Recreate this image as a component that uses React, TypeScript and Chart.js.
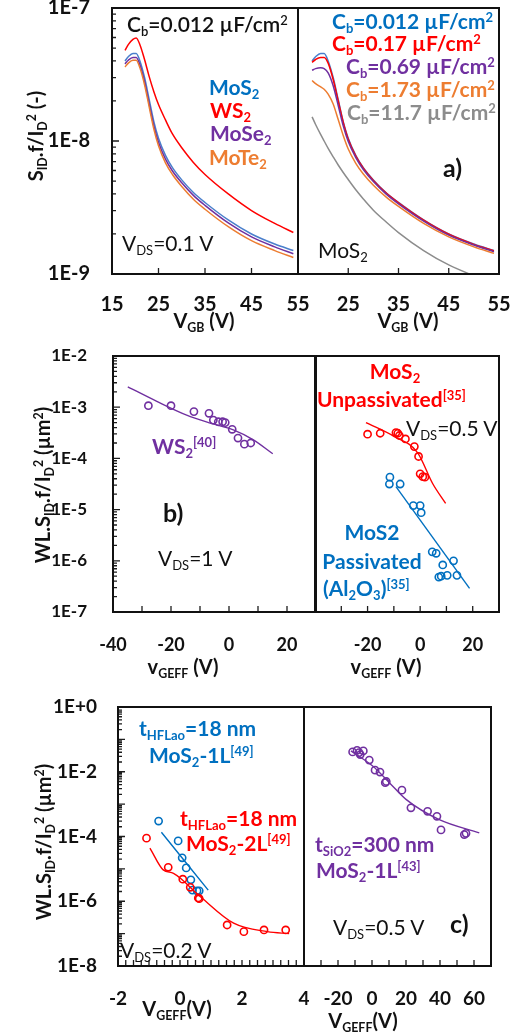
import React, { useEffect, useRef } from "react";
import { Chart, registerables } from "chart.js";
Chart.register(...registerables);

const FONT = "Lato, 'Open Sans', 'DejaVu Sans', sans-serif";
const PAGE_W = 528;
const PAGE_H = 1036;

const BLUE = "#0070C0";
const RED = "#FF0000";
const PURPLE = "#7030A0";
const ORANGE = "#ED7D31";
const GRAY = "#8C8C8C";
const A_BLUE_LINE = "#4A7FCC";

// ---------- panel a ----------
const A_X = [17.8, 18.5, 19.5, 20.2, 21, 22, 23, 24, 25, 26.5, 28, 30, 32.5, 35, 40, 45, 50, 54];
const A_MOS2 = [4.0e-8, 4.3e-8, 4.55e-8, 4.55e-8, 4.0e-8, 3.0e-8, 2.05e-8, 1.4e-8, 1.05e-8, 7.8e-9, 6.3e-9, 5.1e-9, 4.1e-9, 3.45e-9, 2.55e-9, 2.0e-9, 1.68e-9, 1.5e-9];
const A_WS2 = [4.8e-8, 5.3e-8, 5.8e-8, 5.95e-8, 5.3e-8, 4.1e-8, 3.05e-8, 2.35e-8, 1.88e-8, 1.44e-8, 1.13e-8, 8.9e-9, 6.9e-9, 5.6e-9, 4.0e-9, 3.0e-9, 2.4e-9, 2.05e-9];
const A_MOSE2 = [3.8e-8, 4.05e-8, 4.25e-8, 4.25e-8, 3.75e-8, 2.8e-8, 1.9e-8, 1.3e-8, 9.8e-9, 7.3e-9, 5.95e-9, 4.85e-9, 3.9e-9, 3.28e-9, 2.42e-9, 1.9e-9, 1.6e-9, 1.42e-9];
const A_MOTE2 = [3.6e-8, 3.85e-8, 4.05e-8, 4.05e-8, 3.55e-8, 2.65e-8, 1.8e-8, 1.23e-8, 9.2e-9, 6.85e-9, 5.6e-9, 4.55e-9, 3.65e-9, 3.07e-9, 2.27e-9, 1.78e-9, 1.5e-9, 1.33e-9];
const A_CB0012 = [4.0e-8, 4.3e-8, 4.55e-8, 4.55e-8, 4.0e-8, 3.0e-8, 2.05e-8, 1.4e-8, 1.05e-8, 7.8e-9, 6.3e-9, 5.1e-9, 4.1e-9, 3.45e-9, 2.55e-9, 2.0e-9, 1.68e-9, 1.5e-9];
const A_CB017 = [3.9e-8, 4.1e-8, 4.25e-8, 4.25e-8, 3.85e-8, 2.9e-8, 2.0e-8, 1.38e-8, 1.03e-8, 7.7e-9, 6.25e-9, 5.05e-9, 4.07e-9, 3.43e-9, 2.54e-9, 1.99e-9, 1.67e-9, 1.49e-9];
const A_CB069 = [3.4e-8, 3.5e-8, 3.55e-8, 3.5e-8, 3.25e-8, 2.6e-8, 1.85e-8, 1.3e-8, 9.9e-9, 7.5e-9, 6.1e-9, 4.95e-9, 4.0e-9, 3.37e-9, 2.5e-9, 1.96e-9, 1.65e-9, 1.47e-9];
const A_CB173 = [2.85e-8, 2.7e-8, 2.55e-8, 2.45e-8, 2.25e-8, 1.9e-8, 1.45e-8, 1.1e-8, 8.7e-9, 6.8e-9, 5.65e-9, 4.65e-9, 3.8e-9, 3.22e-9, 2.4e-9, 1.9e-9, 1.6e-9, 1.43e-9];
const A_CB117 = [1.52e-8, 1.33e-8, 1.12e-8, 1.0e-8, 8.8e-9, 7.6e-9, 6.6e-9, 5.8e-9, 5.13e-9, 4.3e-9, 3.67e-9, 3.02e-9, 2.47e-9, 2.05e-9, 1.5e-9, 1.17e-9, 9.7e-10, 8.5e-10];
const A_XTICKS = [15, 25, 35, 45, 55];
const A_LEFT_XLABELS = [15, 25, 35, 45, 55];
const A_RIGHT_XLABELS = [25, 35, 45, 55];
const A_YTICKS = [1e-9, 1e-8, 1e-7];

// ---------- panel b ----------
const B_WS2_X = [-27.8, -20, -12.1, -6.9, -5.4, -3.7, -2.2, -1.3, 1.1, 3.1, 5.3, 7.5];
const B_WS2_Y = [1.07e-3, 1.07e-3, 8.2e-4, 7.6e-4, 5.6e-4, 5.2e-4, 5.2e-4, 5.0e-4, 3.7e-4, 2.5e-4, 1.9e-4, 2.0e-4];
const B_WS2_FIT_X = [-34.9, -24.9, -14.6, -6.5, 1.5, 8.4, 15.1];
const B_WS2_FIT_Y = [2.5e-3, 1.3e-3, 7.0e-4, 4.9e-4, 3.6e-4, 2.3e-4, 1.23e-4];
const B_UNP_X = [-20, -15.2, -9.2, -8.5, -7.9, -5.6, -2.2, -0.6, 0, 1, 1.8];
const B_UNP_Y = [2.97e-4, 3.1e-4, 3.2e-4, 3.1e-4, 2.8e-4, 2.4e-4, 1.7e-4, 1.09e-4, 5.0e-5, 4.4e-5, 4.3e-5];
const B_UNP_FIT_X = [-20.6, -10, -1, 4.8, 9.7];
const B_UNP_FIT_Y = [5.0e-4, 2.7e-4, 1.3e-4, 3.2e-5, 1.32e-5];
const B_PAS_X = [-11.5, -11.7, -7.6, -2.6, 0, 0.4, 4.6, 6.1, 8.6, 12.7, 7.1, 8.0, 10.3, 14.0];
const B_PAS_Y = [4.3e-5, 3.16e-5, 3.16e-5, 1.2e-5, 1.2e-5, 8.7e-6, 1.5e-6, 1.4e-6, 8.3e-7, 1.0e-6, 4.8e-7, 5.0e-7, 5.2e-7, 5.2e-7];
const B_PAS_FIT_X = [-9.2, 18.8];
const B_PAS_FIT_Y = [2.8e-5, 2.9e-7];
const B_XTICKS = [-40, -30, -20, -10, 0, 10, 20, 30];
const B_LEFT_XLABELS = [-40, -20, 0, 20];
const B_RIGHT_XLABELS = [-20, 0, 20];
const B_YTICKS = [1e-7, 1e-6, 1e-5, 1e-4, 1e-3, 1e-2];

// ---------- panel c ----------
const C_1L_X = [-0.69, -0.06, 0.07, 0.2, 0.35, 0.4, 0.55, 0.62];
const C_1L_Y = [3.0e-4, 7.3e-5, 2.2e-5, 1.07e-5, 4.6e-6, 2.2e-6, 2.1e-6, 2.1e-6];
const C_1L_FIT_X = [-0.6, 0.91];
const C_1L_FIT_Y = [1.35e-4, 2.2e-6];
const C_2L_X = [-1.08, -0.38, 0.09, 0.33, 0.59, 0.62, 1.52, 2.06, 2.71, 3.41];
const C_2L_Y = [8.9e-5, 1.12e-5, 4.8e-6, 2.7e-6, 1.26e-6, 1.2e-6, 1.85e-7, 1.15e-7, 1.3e-7, 1.3e-7];
const C_2L_FIT_X = [-0.97, -0.54, -0.21, 0.65, 1.73, 2.82, 3.52];
const C_2L_FIT_Y = [4.4e-5, 9.3e-6, 7.3e-6, 1.4e-6, 2.1e-7, 1.15e-7, 1.0e-7];
const C_SIO2_X = [-11.4, -8.8, -7.6, -6.9, -5.1, -1.6, 1.8, 4.7, 7.8, 8.4, 17.6, 22.9, 32.7, 38.2, 40.6, 54.3, 55.3];
const C_SIO2_Y = [4.1e-2, 4.6e-2, 3.9e-2, 3.4e-2, 4.4e-2, 2.3e-2, 1.12e-2, 9.8e-3, 4.6e-3, 5.0e-3, 2.7e-3, 7.7e-4, 6.0e-4, 4.2e-4, 1.6e-4, 1.15e-4, 1.25e-4];
const C_SIO2_FIT_X = [-12.4, 0.4, 10.2, 20, 39.6, 63.1];
const C_SIO2_FIT_Y = [4.4e-2, 1.5e-2, 4.6e-3, 1.4e-3, 3.3e-4, 1.29e-4];
const C_LEFT_XTICKS = [-2, -1.75, -1.5, -1.25, -1, -0.75, -0.5, -0.25, 0, 0.25, 0.5, 0.75, 1, 1.25, 1.5, 1.75, 2, 2.25, 2.5, 2.75, 3, 3.25, 3.5, 3.75, 4];
const C_LEFT_XLABELS = [-2, 0, 2, 4];
const C_RIGHT_XTICKS = [-40, -30, -20, -10, 0, 10, 20, 30, 40, 50, 60, 70];
const C_RIGHT_XLABELS = [-20, 0, 20, 40, 60];
const C_YTICKS = [1e-8, 1e-6, 1e-4, 1e-2, 1];

type Box = { L: number; R: number; T: number; B: number };
type Panel = {
  box: Box;
  xMin: number; xMax: number; xTicks: number[]; xLabels: number[];
  yMin: number; yMax: number; yTicks: number[]; showY: boolean;
  xFont: number; yFont: number; xPad: number; yPad: number;
  datasets: any[];
};

const pts = (xs: number[], ys: number[]) => xs.map((x, i) => ({ x, y: ys[i] }));
const lineDs = (xs: number[], ys: number[], color: string, width = 1.5) => ({
  data: pts(xs, ys),
  showLine: true,
  borderColor: color,
  backgroundColor: color,
  borderWidth: width,
  pointRadius: 0,
  cubicInterpolationMode: "monotone",
  fill: false,
});
const circDs = (xs: number[], ys: number[], color: string) => ({
  data: pts(xs, ys),
  showLine: false,
  pointRadius: 3.6,
  pointBorderWidth: 1.6,
  pointBorderColor: color,
  pointBackgroundColor: "rgba(255,255,255,0)",
  borderColor: color,
  backgroundColor: "rgba(255,255,255,0)",
});

const fmtExp = (v: number) => {
  const e = Math.round(Math.log10(v));
  return "1E" + (e >= 0 ? "+" + e : String(e));
};

function makeChart(canvas: HTMLCanvasElement, p: Panel) {
  const YW = p.showY ? 100 : 0;
  const XH = 60;
  const frame = {
    id: "frame",
    afterDatasetsDraw(chart: any) {
      const { ctx, chartArea: a } = chart;
      const xs = chart.scales.x;
      const ys = chart.scales.y;
      ctx.save();
      ctx.strokeStyle = "#1c1c1c";
      ctx.lineWidth = 1.3;
      ctx.beginPath();
      p.xTicks.forEach((v) => {
        const px = xs.getPixelForValue(v);
        if (px <= a.left + 2 || px >= a.right - 2) return;
        ctx.moveTo(px, a.bottom);
        ctx.lineTo(px, a.bottom - 6);
      });
      if (p.showY) {
        const e0 = Math.floor(Math.log10(p.yMin) + 1e-9);
        const e1 = Math.ceil(Math.log10(p.yMax) - 1e-9);
        for (let e = e0; e < e1; e++) {
          for (let m = 1; m < 10; m++) {
            const py = ys.getPixelForValue(m * Math.pow(10, e));
            if (py <= a.top + 2 || py >= a.bottom - 2) continue;
            ctx.moveTo(a.left, py);
            ctx.lineTo(a.left + (m === 1 ? 7 : 4), py);
          }
        }
      }
      ctx.stroke();
      ctx.lineWidth = 2;
      ctx.strokeStyle = "#111";
      ctx.strokeRect(a.left, a.top, a.right - a.left, a.bottom - a.top);
      ctx.restore();
    },
  };
  return new Chart(canvas, {
    type: "scatter",
    data: { datasets: p.datasets },
    plugins: [frame],
    options: {
      animation: false,
      responsive: false,
      maintainAspectRatio: false,
      devicePixelRatio: 1,
      events: [],
      layout: {
        padding: {
          left: p.box.L - YW,
          top: p.box.T,
          right: PAGE_W - p.box.R,
          bottom: PAGE_H - p.box.B - XH,
        },
      },
      plugins: { legend: { display: false }, tooltip: { enabled: false } },
      scales: {
        x: {
          type: "linear",
          min: p.xMin,
          max: p.xMax,
          grid: { display: false, drawTicks: false },
          border: { display: false },
          afterBuildTicks: (s: any) => {
            s.ticks = p.xTicks.map((v) => ({ value: v }));
          },
          afterFit: (s: any) => {
            s.height = XH;
            s.paddingLeft = 0;
            s.paddingRight = 0;
          },
          ticks: {
            autoSkip: false,
            maxRotation: 0,
            minRotation: 0,
            padding: p.xPad,
            color: "#111",
            font: { family: FONT, size: p.xFont, weight: "bold" },
            callback: (v: any) => (p.xLabels.includes(Number(v)) ? String(v) : ""),
          },
        },
        y: {
          type: "logarithmic",
          min: p.yMin,
          max: p.yMax,
          display: p.showY,
          grid: { display: false, drawTicks: false },
          border: { display: false },
          afterBuildTicks: (s: any) => {
            s.ticks = p.yTicks.map((v) => ({ value: v }));
          },
          afterFit: (s: any) => {
            s.width = YW;
            s.paddingTop = 0;
            s.paddingBottom = 0;
          },
          ticks: {
            autoSkip: false,
            padding: p.yPad,
            color: "#111",
            font: { family: FONT, size: p.yFont, weight: "bold" },
            callback: (v: any) => fmtExp(Number(v)),
          },
        },
      },
    } as any,
  });
}

function buildPanels(): Panel[] {
  return [
    {
      box: { L: 112, R: 298, T: 8, B: 274 },
      xMin: 15, xMax: 55, xTicks: A_XTICKS, xLabels: A_LEFT_XLABELS,
      yMin: 1e-9, yMax: 1e-7, yTicks: A_YTICKS, showY: true,
      xFont: 20, yFont: 20, xPad: 19, yPad: 22,
      datasets: [
        lineDs(A_X, A_MOTE2, ORANGE),
        lineDs(A_X, A_MOSE2, PURPLE),
        lineDs(A_X, A_MOS2, A_BLUE_LINE),
        lineDs(A_X, A_WS2, RED),
      ],
    },
    {
      box: { L: 298, R: 499, T: 8, B: 274 },
      xMin: 15, xMax: 55, xTicks: A_XTICKS, xLabels: A_RIGHT_XLABELS,
      yMin: 1e-9, yMax: 1e-7, yTicks: A_YTICKS, showY: false,
      xFont: 20, yFont: 20, xPad: 19, yPad: 22,
      datasets: [
        lineDs(A_X, A_CB117, GRAY),
        lineDs(A_X, A_CB173, ORANGE),
        lineDs(A_X, A_CB069, PURPLE),
        lineDs(A_X, A_CB017, RED),
        lineDs(A_X, A_CB0012, A_BLUE_LINE),
      ],
    },
    {
      box: { L: 113, R: 316, T: 356, B: 612 },
      xMin: -40, xMax: 30, xTicks: B_XTICKS, xLabels: B_LEFT_XLABELS,
      yMin: 1e-7, yMax: 1e-2, yTicks: B_YTICKS, showY: true,
      xFont: 18, yFont: 17, xPad: 22, yPad: 26,
      datasets: [
        lineDs(B_WS2_FIT_X, B_WS2_FIT_Y, PURPLE, 1.4),
        circDs(B_WS2_X, B_WS2_Y, PURPLE),
      ],
    },
    {
      box: { L: 315, R: 499, T: 356, B: 612 },
      xMin: -40, xMax: 30, xTicks: B_XTICKS, xLabels: B_RIGHT_XLABELS,
      yMin: 1e-7, yMax: 1e-2, yTicks: B_YTICKS, showY: false,
      xFont: 18, yFont: 17, xPad: 22, yPad: 26,
      datasets: [
        lineDs(B_UNP_FIT_X, B_UNP_FIT_Y, RED, 1.4),
        circDs(B_UNP_X, B_UNP_Y, RED),
        lineDs(B_PAS_FIT_X, B_PAS_FIT_Y, BLUE, 1.4),
        circDs(B_PAS_X, B_PAS_Y, BLUE),
      ],
    },
    {
      box: { L: 118, R: 304, T: 707, B: 966 },
      xMin: -2, xMax: 4, xTicks: C_LEFT_XTICKS, xLabels: C_LEFT_XLABELS,
      yMin: 1e-8, yMax: 1, yTicks: C_YTICKS, showY: true,
      xFont: 19, yFont: 19, xPad: 21, yPad: 21,
      datasets: [
        lineDs(C_2L_FIT_X, C_2L_FIT_Y, RED, 1.4),
        circDs(C_2L_X, C_2L_Y, RED),
        lineDs(C_1L_FIT_X, C_1L_FIT_Y, BLUE, 1.4),
        circDs(C_1L_X, C_1L_Y, BLUE),
      ],
    },
    {
      box: { L: 304, R: 491, T: 707, B: 966 },
      xMin: -40, xMax: 70, xTicks: C_RIGHT_XTICKS, xLabels: C_RIGHT_XLABELS,
      yMin: 1e-8, yMax: 1, yTicks: C_YTICKS, showY: false,
      xFont: 19, yFont: 19, xPad: 21, yPad: 21,
      datasets: [
        lineDs(C_SIO2_FIT_X, C_SIO2_FIT_Y, PURPLE, 1.4),
        circDs(C_SIO2_X, C_SIO2_Y, PURPLE),
      ],
    },
  ];
}

const Sub = ({ children }: any) => (
  <span style={{ fontSize: "0.62em", position: "relative", top: "0.3em" }}>{children}</span>
);
const Sup = ({ children }: any) => (
  <span style={{ fontSize: "0.62em", position: "relative", top: "-0.55em" }}>{children}</span>
);

const T = ({ x, y, c = "#111", s = 21, w = 400, a = "left", children }: any) => (
  <div
    style={{
      position: "absolute",
      left: x,
      top: y,
      transform: `translate(${a === "center" ? "-50%" : a === "right" ? "-100%" : "0"}, -50%)`,
      color: c,
      fontSize: s,
      fontWeight: w,
      fontFamily: FONT,
      lineHeight: 1,
      whiteSpace: "nowrap",
    }}
  >
    {children}
  </div>
);

const RT = ({ x, y, s = 20, children }: any) => (
  <div
    style={{
      position: "absolute",
      left: x,
      top: y,
      transform: "translate(-50%, -50%) rotate(-90deg)",
      color: "#111",
      fontSize: s,
      fontWeight: 700,
      fontFamily: FONT,
      lineHeight: 1,
      whiteSpace: "nowrap",
    }}
  >
    {children}
  </div>
);

export default function App() {
  const refs = useRef<(HTMLCanvasElement | null)[]>([]);
  useEffect(() => {
    const panels = buildPanels();
    const charts = panels.map((p, i) => makeChart(refs.current[i] as HTMLCanvasElement, p));
    return () => charts.forEach((c) => c.destroy());
  }, []);

  return (
    <div
      style={{
        position: "absolute",
        left: 0,
        top: 0,
        width: PAGE_W,
        height: PAGE_H,
        background: "#fff",
        overflow: "hidden",
        fontFamily: FONT,
      }}
    >
      {[0, 1, 2, 3, 4, 5].map((i) => (
        <canvas
          key={i}
          ref={(el) => {
            refs.current[i] = el;
          }}
          width={PAGE_W}
          height={PAGE_H}
          style={{ position: "absolute", left: 0, top: 0, width: PAGE_W, height: PAGE_H }}
        />
      ))}

      {/* panel a */}
      <RT x={35} y={136}>
        S<Sub>ID</Sub>.f/I<Sub>D</Sub>
        <Sup>2</Sup> (-)
      </RT>
      <T x={127} y={24} w={600}>
        C<Sub>b</Sub>=0.012 µF/cm<Sup>2</Sup>
      </T>
      <T x={209} y={87} c={BLUE} w={700}>MoS<Sub>2</Sub></T>
      <T x={210} y={110} c={RED} w={700}>WS<Sub>2</Sub></T>
      <T x={210} y={133} c={PURPLE} w={700}>MoSe<Sub>2</Sub></T>
      <T x={209} y={157} c={ORANGE} w={700}>MoTe<Sub>2</Sub></T>
      <T x={122} y={243}>
        V<Sub>DS</Sub>=0.1 V
      </T>
      <T x={332} y={21} c={BLUE} w={700}>
        C<Sub>b</Sub>=0.012 µF/cm<Sup>2</Sup>
      </T>
      <T x={332} y={43} c={RED} w={700}>
        C<Sub>b</Sub>=0.17 µF/cm<Sup>2</Sup>
      </T>
      <T x={346} y={66} c={PURPLE} w={700}>
        C<Sub>b</Sub>=0.69 µF/cm<Sup>2</Sup>
      </T>
      <T x={346} y={89} c={ORANGE} w={700}>
        C<Sub>b</Sub>=1.73 µF/cm<Sup>2</Sup>
      </T>
      <T x={347} y={112} c={GRAY} w={700}>
        C<Sub>b</Sub>=11.7 µF/cm<Sup>2</Sup>
      </T>
      <T x={443} y={167} s={25} w={700}>a)</T>
      <T x={318} y={250}>MoS<Sub>2</Sub></T>
      <T x={204} y={320} a="center" s={20} w={700}>
        V<Sub>GB</Sub> (V)
      </T>
      <T x={408} y={320} a="center" s={20} w={700}>
        V<Sub>GB</Sub> (V)
      </T>

      {/* panel b */}
      <RT x={42} y={485}>
        WL.S<Sub>ID</Sub>.f/I<Sub>D</Sub>
        <Sup>2</Sup> (µm<Sup>2</Sup>)
      </RT>
      <T x={152} y={446} c={PURPLE} w={700}>
        WS<Sub>2</Sub>
        <Sup>[40]</Sup>
      </T>
      <T x={163} y={512} s={25} w={700}>b)</T>
      <T x={158} y={558}>
        V<Sub>DS</Sub>=1 V
      </T>
      <T x={395} y={371} a="center" c={RED} w={700}>
        MoS<Sub>2</Sub>
      </T>
      <T x={317} y={399} c={RED} w={700}>
        Unpassivated<Sup>[35]</Sup>
      </T>
      <T x={406} y={428}>
        V<Sub>DS</Sub>=0.5 V
      </T>
      <T x={372} y={531} a="center" c={BLUE} w={700}>MoS2</T>
      <T x={372} y={560} a="center" c={BLUE} w={700}>Passivated</T>
      <T x={323} y={588} c={BLUE} w={700}>
        (Al<Sub>2</Sub>O<Sub>3</Sub>)<Sup>[35]</Sup>
      </T>
      <T x={183} y={666} a="center" s={20} w={700}>
        v<Sub>GEFF</Sub> (V)
      </T>
      <T x={386} y={666} a="center" s={20} w={700}>
        v<Sub>GEFF</Sub> (V)
      </T>

      {/* panel c */}
      <RT x={43} y={842}>
        WL.S<Sub>ID</Sub>.f/I<Sub>D</Sub>
        <Sup>2</Sup> (µm<Sup>2</Sup>)
      </RT>
      <T x={139} y={728} c={BLUE} w={700}>
        t<Sub>HFLao</Sub>=18 nm
      </T>
      <T x={149} y={755} c={BLUE} w={700}>
        MoS<Sub>2</Sub>-1L<Sup>[49]</Sup>
      </T>
      <T x={180} y={818} c={RED} w={700}>
        t<Sub>HFLao</Sub>=18 nm
      </T>
      <T x={186} y={843} c={RED} w={700}>
        MoS<Sub>2</Sub>-2L<Sup>[49]</Sup>
      </T>
      <T x={120} y={950}>
        V<Sub>DS</Sub>=0.2 V
      </T>
      <T x={315} y={844} c={PURPLE} w={700}>
        t<Sub>SiO2</Sub>=300 nm
      </T>
      <T x={316} y={870} c={PURPLE} w={700}>
        MoS<Sub>2</Sub>-1L<Sup>[43]</Sup>
      </T>
      <T x={333} y={927}>
        V<Sub>DS</Sub>=0.5 V
      </T>
      <T x={450} y={923} s={25} w={700}>c)</T>
      <T x={177} y={1008} a="center" s={20} w={700}>
        V<Sub>GEFF</Sub>(V)
      </T>
      <T x={363} y={1020} a="center" s={20} w={700}>
        V<Sub>GEFF</Sub>(V)
      </T>
    </div>
  );
}
